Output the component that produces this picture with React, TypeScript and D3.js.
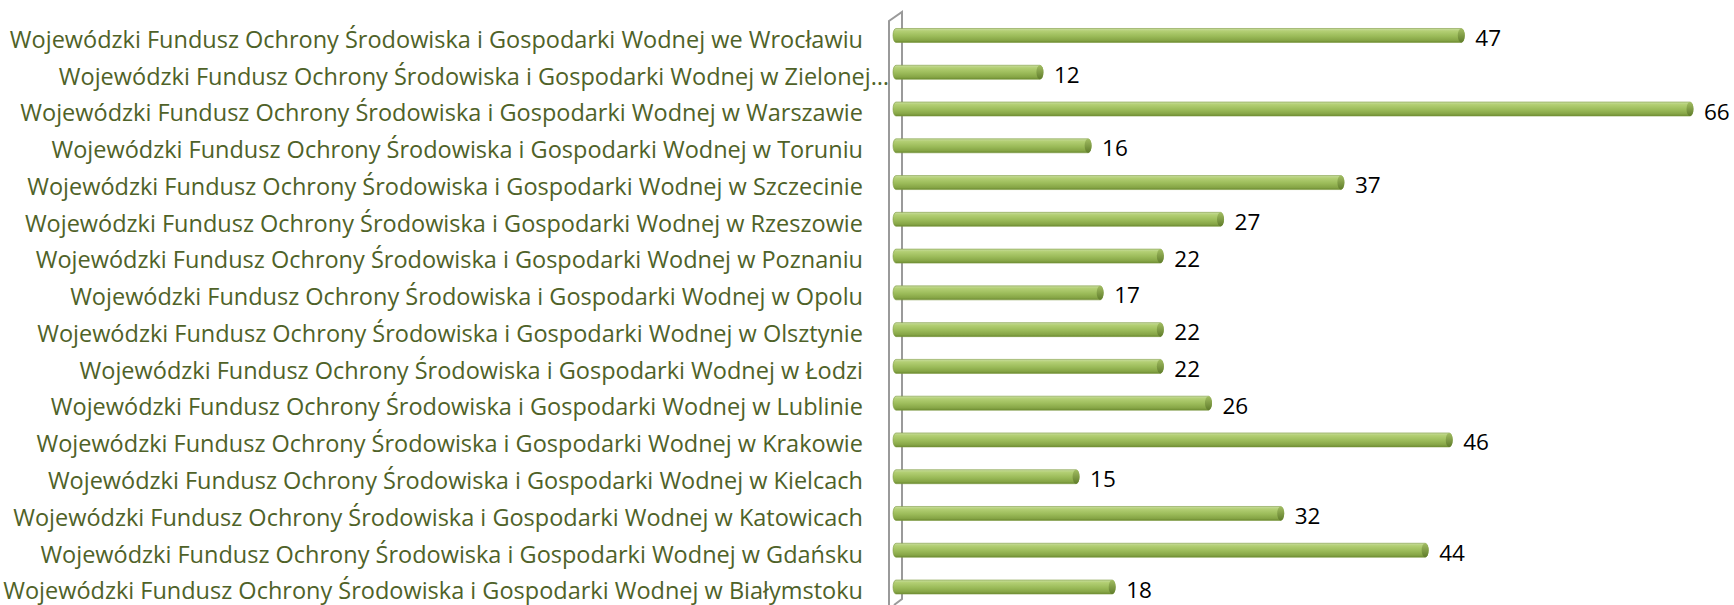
import React from "react";
import * as d3 from "d3";

const categories: string[] = [
  "Wojewódzki Fundusz Ochrony Środowiska i Gospodarki Wodnej we Wrocławiu",
  "Wojewódzki Fundusz Ochrony Środowiska i Gospodarki Wodnej w Zielonej…",
  "Wojewódzki Fundusz Ochrony Środowiska i Gospodarki Wodnej w Warszawie",
  "Wojewódzki Fundusz Ochrony Środowiska i Gospodarki Wodnej w Toruniu",
  "Wojewódzki Fundusz Ochrony Środowiska i Gospodarki Wodnej w Szczecinie",
  "Wojewódzki Fundusz Ochrony Środowiska i Gospodarki Wodnej w Rzeszowie",
  "Wojewódzki Fundusz Ochrony Środowiska i Gospodarki Wodnej w Poznaniu",
  "Wojewódzki Fundusz Ochrony Środowiska i Gospodarki Wodnej w Opolu",
  "Wojewódzki Fundusz Ochrony Środowiska i Gospodarki Wodnej w Olsztynie",
  "Wojewódzki Fundusz Ochrony Środowiska i Gospodarki Wodnej w Łodzi",
  "Wojewódzki Fundusz Ochrony Środowiska i Gospodarki Wodnej w Lublinie",
  "Wojewódzki Fundusz Ochrony Środowiska i Gospodarki Wodnej w Krakowie",
  "Wojewódzki Fundusz Ochrony Środowiska i Gospodarki Wodnej w Kielcach",
  "Wojewódzki Fundusz Ochrony Środowiska i Gospodarki Wodnej w Katowicach",
  "Wojewódzki Fundusz Ochrony Środowiska i Gospodarki Wodnej w Gdańsku",
  "Wojewódzki Fundusz Ochrony Środowiska i Gospodarki Wodnej w Białymstoku",
];

const values: number[] = [47, 12, 66, 16, 37, 27, 22, 17, 22, 22, 26, 46, 15, 32, 44, 18];

const W = 1734;
const H = 605;

export default function App() {
  const x = d3.scaleLinear().domain([0, d3.max(values) as number]).range([898.5, 1693]);
  const y = d3.scaleBand<string>().domain(categories).range([17.1, 605.4]).padding(0);
  const barH = 14;
  const labelX = 863;
  const font = "'Open Sans', sans-serif";

  return (
    <svg
      width={W}
      height={H}
      style={{ position: "absolute", left: 0, top: 0, background: "#fff" }}
    >
      <defs>
        <linearGradient id="barGrad" x1="0" y1="0" x2="0" y2="1">
          <stop offset="0" stopColor="#C9DDA0" />
          <stop offset="0.18" stopColor="#B3CF74" />
          <stop offset="0.55" stopColor="#9BBB59" />
          <stop offset="0.85" stopColor="#86A546" />
          <stop offset="1" stopColor="#6B8A30" />
        </linearGradient>
        <linearGradient id="capGrad" x1="0" y1="0" x2="0" y2="1">
          <stop offset="0" stopColor="#A2BD62" />
          <stop offset="1" stopColor="#5F7C2A" />
        </linearGradient>
      </defs>

      {/* 3D wall edge */}
      <g stroke="#9A9A9A" strokeWidth={2} fill="none">
        <polyline points={`889,${H} 889,21 902,12 902,599 894,${H}`} />
      </g>

      {/* category labels */}
      <g fontFamily={font} fontSize={23.5} fill="#4F6228" textAnchor="end">
        {categories.map((c) => {
          const cy = (y(c) as number) + y.bandwidth() / 2;
          const extra = c.endsWith("…") ? 26 : 0;
          return (
            <text key={c} x={labelX + extra} y={cy + 12.3}>
              {c}
            </text>
          );
        })}
      </g>

      {/* bars */}
      {categories.map((c, i) => {
        const cy = (y(c) as number) + y.bandwidth() / 2;
        const x0 = 893;
        const x1 = x(values[i]);
        return (
          <g key={c + "bar"}>
            <rect
              x={x0}
              y={cy - barH / 2}
              width={x1 - x0}
              height={barH}
              rx={3}
              ry={barH / 2}
              fill="url(#barGrad)"
              stroke="#7E9B42"
              strokeWidth={0.6}
            />
            <ellipse
              cx={x1 - 3}
              cy={cy}
              rx={3.5}
              ry={barH / 2}
              fill="url(#capGrad)"
            />
          </g>
        );
      })}

      {/* value labels */}
      <g fontFamily={font} fontSize={22.5} fill="#000">
        {categories.map((c, i) => {
          const cy = (y(c) as number) + y.bandwidth() / 2;
          return (
            <text key={c + "v"} x={x(values[i]) + 11} y={cy + 10.5}>
              {values[i]}
            </text>
          );
        })}
      </g>
    </svg>
  );
}
